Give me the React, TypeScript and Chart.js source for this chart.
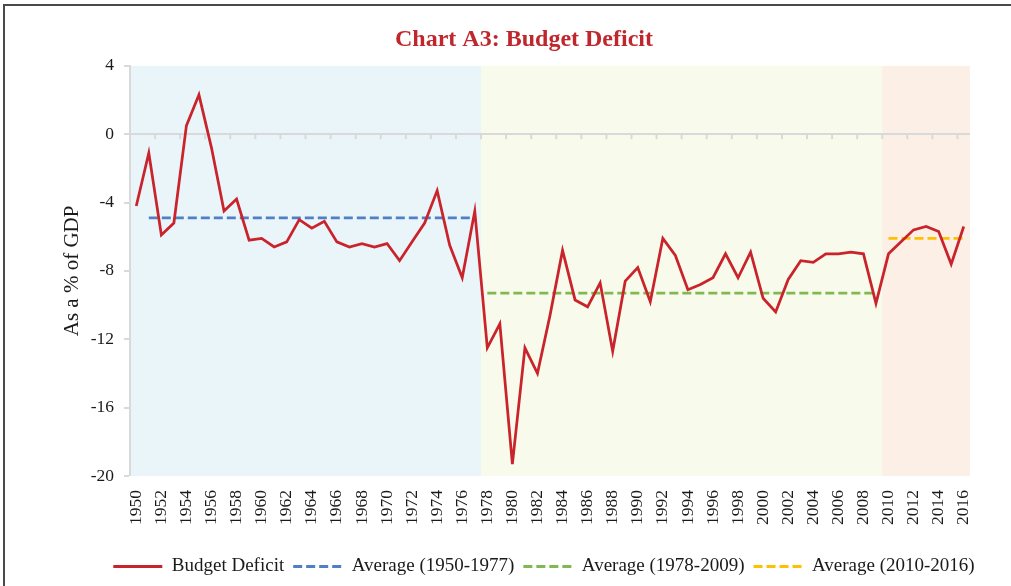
import React, { useEffect, useRef } from "react";
import { Chart, registerables } from "chart.js";

Chart.register(...registerables);

// ---- Data -------------------------------------------------------------
const years = [
  "1950", "1951", "1952", "1953", "1954", "1955", "1956", "1957", "1958", "1959",
  "1960", "1961", "1962", "1963", "1964", "1965", "1966", "1967", "1968", "1969",
  "1970", "1971", "1972", "1973", "1974", "1975", "1976", "1977", "1978", "1979",
  "1980", "1981", "1982", "1983", "1984", "1985", "1986", "1987", "1988", "1989",
  "1990", "1991", "1992", "1993", "1994", "1995", "1996", "1997", "1998", "1999",
  "2000", "2001", "2002", "2003", "2004", "2005", "2006", "2007", "2008", "2009",
  "2010", "2011", "2012", "2013", "2014", "2015", "2016",
];

const budgetDeficit = [
  -4.2, -1.1, -5.9, -5.2, 0.5, 2.3, -0.8, -4.5, -3.8, -6.2, // 1950-1959
  -6.1, -6.6, -6.3, -5.0, -5.5, -5.1, -6.3, -6.6, -6.4, -6.6, // 1960-1969
  -6.4, -7.4, -6.3, -5.2, -3.3, -6.5, -8.4, -4.5, -12.5, -11.1, // 1970-1979
  -19.3, -12.5, -14.0, -10.6, -6.8, -9.7, -10.1, -8.7, -12.7, -8.6, // 1980-1989
  -7.8, -9.8, -6.1, -7.1, -9.1, -8.8, -8.4, -7.0, -8.4, -6.9, // 1990-1999
  -9.6, -10.4, -8.5, -7.4, -7.5, -7.0, -7.0, -6.9, -7.0, -9.9, // 2000-2009
  -7.0, -6.3, -5.6, -5.4, -5.7, -7.6, -5.4, // 2010-2016
];

const averageLabels = ["Average (1950-1977)", "Average (1978-2009)", "Average (2010-2016)"];
const averageValues = [-4.9, -9.3, -6.1];
const averageFrom = [1951, 1978, 2010];
const averageTo = [1977, 2009, 2016];
const averageColors = ["#4F7FC6", "#80B94F", "#FFC000"];

const bandFrom = [1950, 1978, 2010];
const bandTo = [1977, 2009, 2016];
const bandColors = ["#EAF5FA", "#F8FBEC", "#FCEFE6"];

const yMin = -20;
const yMax = 4;
const yStep = 4;

const titleText = "Chart A3: Budget Deficit";
const yTitleText = "As a % of GDP";
const seriesLabel = "Budget Deficit";

// ---- Helpers ------------------------------------------------------------
const FONT = "'Liberation Serif', 'Times New Roman', serif";
const TEXT = "#1a1a1a";
const AXIS = "#d9d9d9";
const DASH = [9, 4];

const averageSeries = (k: number) =>
  years.map((y) => {
    const n = Number(y);
    return n >= averageFrom[k] && n <= averageTo[k] ? averageValues[k] : null;
  });

const decorPlugin = {
  id: "decor",
  afterLayout(chart: any) {
    if (chart.titleBlock) {
      chart.titleBlock.left += 9;
      chart.titleBlock.right += 9;
    }
    if (chart.legend) {
      chart.legend.left += 29;
      chart.legend.right += 29;
    }
  },
  beforeDraw(chart: any) {
    const { ctx, chartArea, scales } = chart;
    const x = scales.x;
    const half = (x.getPixelForValue(1) - x.getPixelForValue(0)) / 2;
    ctx.save();
    bandFrom.forEach((s, i) => {
      const x0 = x.getPixelForValue(years.indexOf(String(s))) - half;
      const x1 = x.getPixelForValue(years.indexOf(String(bandTo[i]))) + half;
      ctx.fillStyle = bandColors[i];
      ctx.fillRect(x0, chartArea.top, x1 - x0, chartArea.bottom - chartArea.top);
    });
    ctx.restore();
  },
  beforeDatasetsDraw(chart: any) {
    const { ctx, scales } = chart;
    const x = scales.x;
    const y = scales.y;
    const half = (x.getPixelForValue(1) - x.getPixelForValue(0)) / 2;
    const y0 = y.getPixelForValue(0);
    ctx.save();
    ctx.strokeStyle = AXIS;
    ctx.lineWidth = 2;
    for (let i = 2; i < years.length; i += 2) {
      const px = x.getPixelForValue(i) - half;
      ctx.beginPath();
      ctx.moveTo(px, y0);
      ctx.lineTo(px, y0 + 5);
      ctx.stroke();
    }
    ctx.restore();
  },
};

export default function App() {
  const canvasRef = useRef<HTMLCanvasElement | null>(null);

  useEffect(() => {
    if (!canvasRef.current) return;
    Chart.defaults.font.family = FONT;
    Chart.defaults.color = TEXT;

    const chart = new Chart(canvasRef.current, {
      type: "line",
      data: {
        labels: years,
        datasets: [
          {
            label: seriesLabel,
            data: budgetDeficit,
            borderColor: "#C9232B",
            backgroundColor: "#C9232B",
            borderWidth: 2.75,
            pointRadius: 0,
            tension: 0,
            order: 0,
          },
          ...averageLabels.map((lab, k) => ({
            label: lab,
            data: averageSeries(k),
            borderColor: averageColors[k],
            backgroundColor: averageColors[k],
            borderWidth: 2.75,
            borderDash: DASH,
            pointRadius: 0,
            tension: 0,
            spanGaps: false,
            order: 1,
          })),
        ],
      },
      options: {
        animation: false,
        responsive: true,
        maintainAspectRatio: false,
        layout: { padding: { top: 10, left: 60, right: 41, bottom: 0 } },
        plugins: {
          title: {
            display: true,
            text: titleText,
            color: "#C0272D",
            font: { family: FONT, size: 24, weight: "bold" },
            padding: { top: 15, bottom: 12 },
          },
          legend: {
            display: true,
            position: "bottom",
            labels: {
              usePointStyle: true,
              pointStyle: "line",
              pointStyleWidth: 49,
              boxHeight: 19,
              padding: 9,
              color: TEXT,
              font: { family: FONT, size: 19 },
              generateLabels: (chart: any) => {
                const items = Chart.defaults.plugins.legend.labels.generateLabels(chart);
                return items.map((it: any) => {
                  const ds = chart.data.datasets[it.datasetIndex];
                  return {
                    ...it,
                    strokeStyle: ds.borderColor,
                    fillStyle: ds.borderColor,
                    lineWidth: 3,
                    lineDash: ds.borderDash || [],
                  };
                });
              },
            },
          },
          tooltip: { enabled: false },
        },
        scales: {
          x: {
            type: "category",
            offset: true,
            border: { display: false },
            grid: { display: false, drawTicks: false, offset: true },
            ticks: {
              autoSkip: false,
              minRotation: 90,
              maxRotation: 90,
              padding: 14,
              color: TEXT,
              font: { family: FONT, size: 17.5 },
              callback: (_v: any, i: number) => (i % 2 === 0 ? years[i] : ""),
            },
            afterFit: (s: any) => {
              s.height = 72;
            },
          },
          y: {
            min: yMin,
            max: yMax,
            border: { display: true, color: AXIS, width: 2 },
            grid: {
              drawTicks: true,
              tickLength: 6,
              tickWidth: 2,
              tickColor: AXIS,
              color: (c: any) => (c.tick && c.tick.value === 0 ? AXIS : "rgba(0,0,0,0)"),
              lineWidth: (c: any) => (c.tick && c.tick.value === 0 ? 2 : 0),
            },
            ticks: {
              stepSize: yStep,
              padding: 10,
              color: TEXT,
              font: { family: FONT, size: 17.5 },
            },
            title: {
              display: true,
              text: yTitleText,
              color: TEXT,
              font: { family: FONT, size: 21 },
              padding: { top: 0, bottom: 0 },
            },
            afterFit: (s: any) => {
              s.width = 70;
            },
          },
        },
      },
      plugins: [decorPlugin],
    });

    return () => chart.destroy();
  }, []);

  return (
    <div style={{ position: "absolute", left: 0, top: 0, width: 1011, height: 586, background: "#fff" }}>
      <div
        style={{
          position: "absolute",
          left: 3,
          top: 4,
          width: 1030,
          height: 600,
          borderTop: "2px solid #4a4a4a",
          borderLeft: "2px solid #4a4a4a",
        }}
      />
      <canvas ref={canvasRef} style={{ position: "absolute", left: 0, top: 0, width: 1011, height: 586 }} />
    </div>
  );
}
